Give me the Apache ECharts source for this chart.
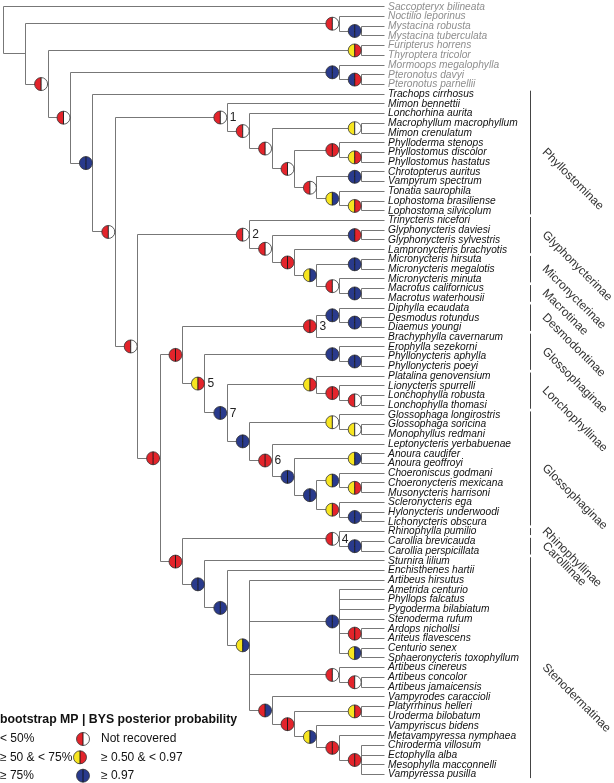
<!DOCTYPE html>
<html><head><meta charset="utf-8">
<script src="https://cdn.jsdelivr.net/npm/echarts@6/dist/echarts.min.js"></script>
<style>html,body{margin:0;padding:0;background:#fff}#c{width:614px;height:783px}</style>
</head><body><div id="c"></div>
<script>
// ---------- DATA ----------
const taxa = ["Saccopteryx bilineata","Noctilio leporinus","Mystacina robusta","Mystacina tuberculata","Furipterus horrens","Thyroptera tricolor","Mormoops megalophylla","Pteronotus davyi","Pteronotus parnellii","Trachops cirrhosus","Mimon bennettii","Lonchorhina aurita","Macrophyllum macrophyllum","Mimon crenulatum","Phylloderma stenops","Phyllostomus discolor","Phyllostomus hastatus","Chrotopterus auritus","Vampyrum spectrum","Tonatia saurophila","Lophostoma brasiliense","Lophostoma silvicolum","Trinycteris nicefori","Glyphonycteris daviesi","Glyphonycteris sylvestris","Lampronycteris brachyotis","Micronycteris hirsuta","Micronycteris megalotis","Micronycteris minuta","Macrotus californicus","Macrotus waterhousii","Diphylla ecaudata","Desmodus rotundus","Diaemus youngi","Brachyphylla cavernarum","Erophylla sezekorni","Phyllonycteris aphylla","Phyllonycteris poeyi","Platalina genovensium","Lionycteris spurrelli","Lonchophylla robusta","Lonchophylla thomasi","Glossophaga longirostris","Glossophaga soricina","Monophyllus redmani","Leptonycteris yerbabuenae","Anoura caudifer","Anoura geoffroyi","Choeroniscus godmani","Choeronycteris mexicana","Musonycteris harrisoni","Scleronycteris ega","Hylonycteris underwoodi","Lichonycteris obscura","Rhinophylla pumilio","Carollia brevicauda","Carollia perspicillata","Sturnira lilium","Enchisthenes hartii","Artibeus hirsutus","Ametrida centurio","Phyllops falcatus","Pygoderma bilabiatum","Stenoderma rufum","Ardops nichollsi","Ariteus flavescens","Centurio senex","Sphaeronycteris toxophyllum","Artibeus cinereus","Artibeus concolor","Artibeus jamaicensis","Vampyrodes caraccioli","Platyrrhinus helleri","Uroderma bilobatum","Vampyriscus bidens","Metavampyressa nymphaea","Chiroderma villosum","Ectophylla alba","Mesophylla macconnelli","Vampyressa pusilla"];
const outgroupCount = 9;

// Topology (leaf = index in taxa). After ")" : support code (left MP | right BYS), optional #node number.
// W = white, Y = yellow, R = red, B = blue
const phyllostominae = "(10,(11,((12,13)YW,((14,(15,16)YR)RR,((17,18)BB,(19,(20,21)YR)YB)RW)RW)RW)RW)RW#1";
const glyphoMicroMacro = "(22,((23,24)BR,(25,((26,27)BB,(28,(29,30)BB)RW)YB)RR)RW)RW#2";
const desmodontinae = "((31,(32,33)BB)BB,34)RR#3";
const glossoLoncho = "((35,(36,37)BB)BB,((38,(39,(40,41)RW)RR)YR,((42,(43,44)YW)YW,(45,((46,47)YB,((48,(49,50)YR)YB,(51,(52,53)BB)YR)BB)BB)RR#6)BB)BB#7)YR#5";
const rhinoCarollia = "(54,(55,56)BB)RW#4";
const stenodermatinae = "(57,(58,(59,(60,61,62,63,(64,65)RR,(66,67)YB)BB,(68,(69,70)RW)RW,(71,((72,73)YR,(74,(75,(76,77,78,79)RR)RR)YB)RR)RB)YB)BB)BB";
const treeNewick = "(0,((1,(2,3)BB)RW,((4,5)YR,((6,(7,8)BR)BB,(9,(" + phyllostominae + ",(" + glyphoMicroMacro +
  ",((" + desmodontinae + "," + glossoLoncho + ")RR,(" + rhinoCarollia + "," + stenodermatinae + ")RR)RR)RW)RW)BB)RW)RW))";

const cladeNames = ["Phyllostominae","Glyphonycterinae","Micronycterinae","Macrotinae","Desmodontinae","Glossophaginae","Lonchophyllinae","Glossophaginae","Rhinophyllinae","Carolliinae","Stenodermatinae"];
const cladeFirst = [9,22,26,29,31,34,38,42,54,55,57];
const cladeLast  = [21,25,28,30,33,37,41,53,54,56,79];

const legendTitle = "bootstrap MP | BYS posterior probability";
const legendMP = ["< 50%","\u2265 50 & < 75%","\u2265 75%"];
const legendBYS = ["Not recovered","\u2265 0.50 & < 0.97","\u2265 0.97"];
const legendCodes = ["RW","YR","BB"];

// ---------- LAYOUT ----------
const PAL = {W:'#ffffff', Y:'#f7e520', R:'#e3242b', B:'#293a8c'};
const CODES = ['W','Y','R','B'];
const X0 = 3.3, STEP = 22.4, Y0 = 6.7, LSTEP = 9.72;
const FONT = "'Liberation Sans', Arial, sans-serif";

function parse(s){
  let i = 0;
  function node(){
    if (s[i] === '('){
      i++; const ch = [node()];
      while (s[i] === ','){ i++; ch.push(node()); }
      i++;
      let code = ''; while (i < s.length && /[RWYB]/.test(s[i])) code += s[i++];
      let num = ''; if (s[i] === '#'){ i++; while (i < s.length && /\d/.test(s[i])) num += s[i++]; }
      return {children: ch, code, num};
    }
    let n = ''; while (i < s.length && /\d/.test(s[i])) n += s[i++];
    return {leaf: +n};
  }
  return node();
}
const root = parse(treeNewick);
function height(n){ n.h = n.children ? 1 + Math.max(...n.children.map(height)) : 0; return n.h; }
const HMAX = height(root);
function place(n){
  if (n.children){ n.children.forEach(place); n.y = (n.children[0].y + n.children[n.children.length-1].y)/2; }
  else n.y = Y0 + LSTEP*n.leaf;
  n.x = X0 + STEP*(HMAX - n.h);
}
place(root);

const segs = [], circles = [], nums = [], leaves = [];
(function walk(n){
  if (!n.children){ leaves.push([n.x, n.y, n.leaf]); return; }
  const f = n.children[0], l = n.children[n.children.length-1];
  segs.push([n.x, f.y, n.x, l.y]);
  n.children.forEach(c => { segs.push([n.x, c.y, c.x, c.y]); walk(c); });
  if (n.code) circles.push([n.x, n.y, CODES.indexOf(n.code[0]), CODES.indexOf(n.code[1])]);
  if (n.num) nums.push([n.x, n.y, +n.num]);
})(root);

const brackets = cladeNames.map((nm, k) => [530, Y0 + LSTEP*cladeFirst[k] - 3.5, Y0 + LSTEP*cladeLast[k] + 3.5, k]);

function crisp(v){ return Math.round(v - 0.5) + 0.5; }
function dot(cx, cy, lc, rc){
  const r = 6.5;
  return [
    {type:'sector', shape:{cx, cy, r0:0, r, startAngle:Math.PI/2, endAngle:Math.PI*1.5, clockwise:true}, style:{fill:lc}},
    {type:'sector', shape:{cx, cy, r0:0, r, startAngle:-Math.PI/2, endAngle:Math.PI/2, clockwise:true}, style:{fill:rc}},
    {type:'circle', shape:{cx, cy, r}, style:{fill:'transparent', stroke:'#333', lineWidth:0.8}},
    {type:'line', shape:{x1:cx, y1:cy-r, x2:cx, y2:cy+r}, style:{stroke:'#111', lineWidth:0.9}}
  ];
}

// ---------- CHART ----------
const chart = echarts.init(document.getElementById('c'));
const legendGraphics = [
  {type:'text', x:0, y:720, style:{text:legendTitle, font:'bold 12.3px ' + FONT, fill:'#111', verticalAlign:'middle'}}
];
[739, 757.3, 775.7].forEach((y, k) => {
  legendGraphics.push({type:'text', x:0, y, style:{text:legendMP[k], font:'12px ' + FONT, fill:'#111', verticalAlign:'middle'}});
  legendGraphics.push({type:'text', x:101, y, style:{text:legendBYS[k], font:'12px ' + FONT, fill:'#111', verticalAlign:'middle'}});
  legendGraphics.push({type:'group', children: dot(k === 1 ? 80 : 83, y, PAL[legendCodes[k][0]], PAL[legendCodes[k][1]])});
});

chart.setOption({
  animation:false,
  grid:{left:0, right:0, top:0, bottom:0, containLabel:false},
  xAxis:{type:'value', min:0, max:614, show:false},
  yAxis:{type:'value', min:0, max:783, inverse:true, show:false},
  graphic: legendGraphics,
  series:[
    {type:'custom', clip:false, silent:true, data:segs, renderItem(p, api){
      const a = api.coord([api.value(0), api.value(1)]), b = api.coord([api.value(2), api.value(3)]);
      return {type:'line', shape:{x1:crisp(a[0]), y1:crisp(a[1]), x2:crisp(b[0]), y2:crisp(b[1])},
        style:{stroke:'#777', lineWidth:1}};
    }},
    {type:'custom', clip:false, silent:true, data:leaves, renderItem(p, api){
      const a = api.coord([api.value(0), api.value(1)]);
      const i = api.value(2);
      return {type:'text', x:a[0] + 4, y:a[1], style:{text:taxa[i], font:'italic 10.2px ' + FONT,
        fill: i < outgroupCount ? '#8f8f8f' : '#111', verticalAlign:'middle', align:'left'}};
    }},
    {type:'custom', clip:false, silent:true, data:circles, renderItem(p, api){
      const a = api.coord([api.value(0), api.value(1)]);
      return {type:'group', children: dot(a[0] - 7, a[1], PAL[CODES[api.value(2)]], PAL[CODES[api.value(3)]])};
    }},
    {type:'custom', clip:false, silent:true, data:nums, renderItem(p, api){
      const a = api.coord([api.value(0), api.value(1)]);
      return {type:'text', x:a[0] + 2.5, y:a[1] + 0.5, style:{text:String(api.value(2)), font:'12px ' + FONT,
        fill:'#222', verticalAlign:'middle', align:'left'}};
    }},
    {type:'custom', clip:false, silent:true, data:brackets, renderItem(p, api){
      const a = api.coord([api.value(0), api.value(1)]), b = api.coord([api.value(0), api.value(2)]);
      const k = api.value(3);
      const mid = (a[1] + b[1]) / 2;
      return {type:'group', children:[
        {type:'line', shape:{x1:crisp(a[0]), y1:a[1], x2:crisp(b[0]), y2:b[1]}, style:{stroke:'#444', lineWidth:1}},
        {type:'text', x:a[0] + 14, y:mid - 2, rotation:-Math.PI/4,
          style:{text:cladeNames[k], font:'12px ' + FONT, fill:'#333', align:'left', verticalAlign:'middle'}}
      ]};
    }}
  ]
});
</script>
</body></html>
